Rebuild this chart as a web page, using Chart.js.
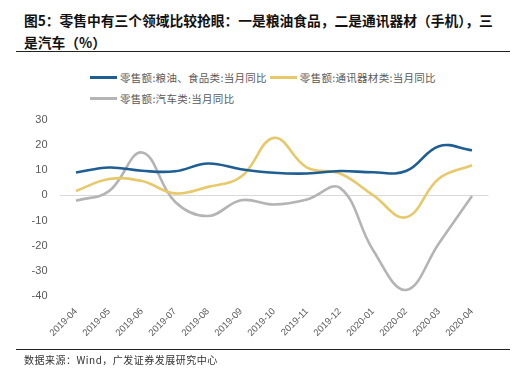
<!DOCTYPE html>
<html>
<head>
<meta charset="utf-8">
<script src="https://cdn.jsdelivr.net/npm/chart.js@4"></script>
<style>
  body { margin: 0; background: #fff; }
  #wrap { position: relative; width: 513px; height: 376px; overflow: hidden; }
  #title {
    position: absolute; left: 24px; top: 9px; width: 490px; white-space: nowrap;
    font: bold 13.75px "Noto Sans CJK SC", sans-serif; line-height: 22px;
    color: #111;
  }
  .rule { position: absolute; left: 16px; width: 494px; height: 1px; background: #222; }
  #legend { position: absolute; left: 90px; top: 67px; width: 410px; line-height: 20px;
    font: 10.5px "Noto Sans CJK SC", sans-serif; color: #595959; letter-spacing: 0.3px; }
  .lg { display: inline-flex; align-items: center; height: 20px; margin-right: 3px; }
  .lg i { display: inline-block; width: 27px; height: 3px; margin-right: 3px; }
  #source { position: absolute; left: 24px; top: 352px; letter-spacing: 0.5px;
    font: 10px "Noto Sans CJK SC", sans-serif; color: #333; }
  canvas { position: absolute; left: 0; top: 0; }
</style>
</head>
<body>
<div id="wrap">
  <div id="title">图5：零售中有三个领域比较抢眼：一是粮油食品，二是通讯器材（手机），三<br>是汽车（%）</div>
  <div class="rule" style="top:51px"></div>
  <div id="legend"></div>
  <canvas id="ch" width="513" height="376"></canvas>
  <div class="rule" style="top:349px"></div>
  <div id="source">数据来源：Wind，广发证券发展研究中心</div>
</div>
<script>
// categories
const months = ['2019-04', '2019-05', '2019-06', '2019-07', '2019-08', '2019-09', '2019-10',
                '2019-11', '2019-12', '2020-01', '2020-02', '2020-03', '2020-04'];

// series (%)
const foodYoY  = [9.1, 11.1, 9.8, 9.6, 12.7, 10.4, 9.0, 8.7, 9.7, 9.2, 9.7, 19.6, 18.0];
const phoneYoY = [1.8, 6.5, 5.7, 0.8, 3.4, 7.4, 22.9, 11.1, 8.7, 0.1, -8.7, 6.7, 12.0];
const autoYoY  = [-2.1, 1.7, 17.1, -2.5, -8.2, -1.9, -3.6, -1.6, 3.0, -21.7, -37.6, -19.0, -0.2];

const yTicks = [30, 20, 10, 0, -10, -20, -30, -40];

const series = [
  { label: '零售额:粮油、食品类:当月同比', data: foodYoY,  color: '#1f5e93' },
  { label: '零售额:通讯器材类:当月同比',   data: phoneYoY, color: '#e8c96a' },
  { label: '零售额:汽车类:当月同比',       data: autoYoY,  color: '#b4b4b4' }
];

/* ── legend in html ─────────────────────────────────────────── */
const lg = document.getElementById('legend');
series.forEach((s, i) => {
  const d = document.createElement('span');
  d.className = 'lg';
  d.innerHTML = `<i style="background:${s.color}"></i>${s.label}`;
  lg.appendChild(d);
  if (i === 1) lg.appendChild(document.createElement('br'));
});

/* ── chart ──────────────────────────────────────────────────── */
const tickFont = { family: '"Liberation Sans", Arial, sans-serif', size: 11 };

new Chart(document.getElementById('ch').getContext('2d'), {
  type: 'line',
  data: {
    labels: months,
    datasets: series.map(s => ({
      label: s.label,
      data: s.data,
      borderColor: s.color,
      backgroundColor: s.color,
      borderWidth: 2.6,
      pointRadius: 0,
      tension: 0.4,
      fill: false
    }))
  },
  options: {
    responsive: false,
    animation: false,
    layout: { padding: { left: 9.5, right: 24.5, top: 120, bottom: 30 } },
    plugins: { legend: { display: false }, tooltip: { enabled: false } },
    scales: {
      x: {
        offset: true,
        grid: { display: false },
        border: { display: false },
        ticks: { color: '#595959', font: { ...tickFont, size: 9.5 }, minRotation: 45, maxRotation: 45,
                 padding: 2, autoSkip: false },
        afterFit: s => { s.height = 50; }
      },
      y: {
        min: -40, max: 30,
        border: { display: false },
        grid: {
          drawTicks: false,
          lineWidth: 1,
          color: c => c.tick && c.tick.value === 0 ? '#d9d9d9' : 'rgba(0,0,0,0)'
        },
        ticks: { color: '#595959', font: tickFont, padding: 12, stepSize: 10,
                 callback: v => yTicks.includes(v) ? v : '' },
        afterFit: s => { s.width = 50; }
      }
    }
  }
});
</script>
</body>
</html>
